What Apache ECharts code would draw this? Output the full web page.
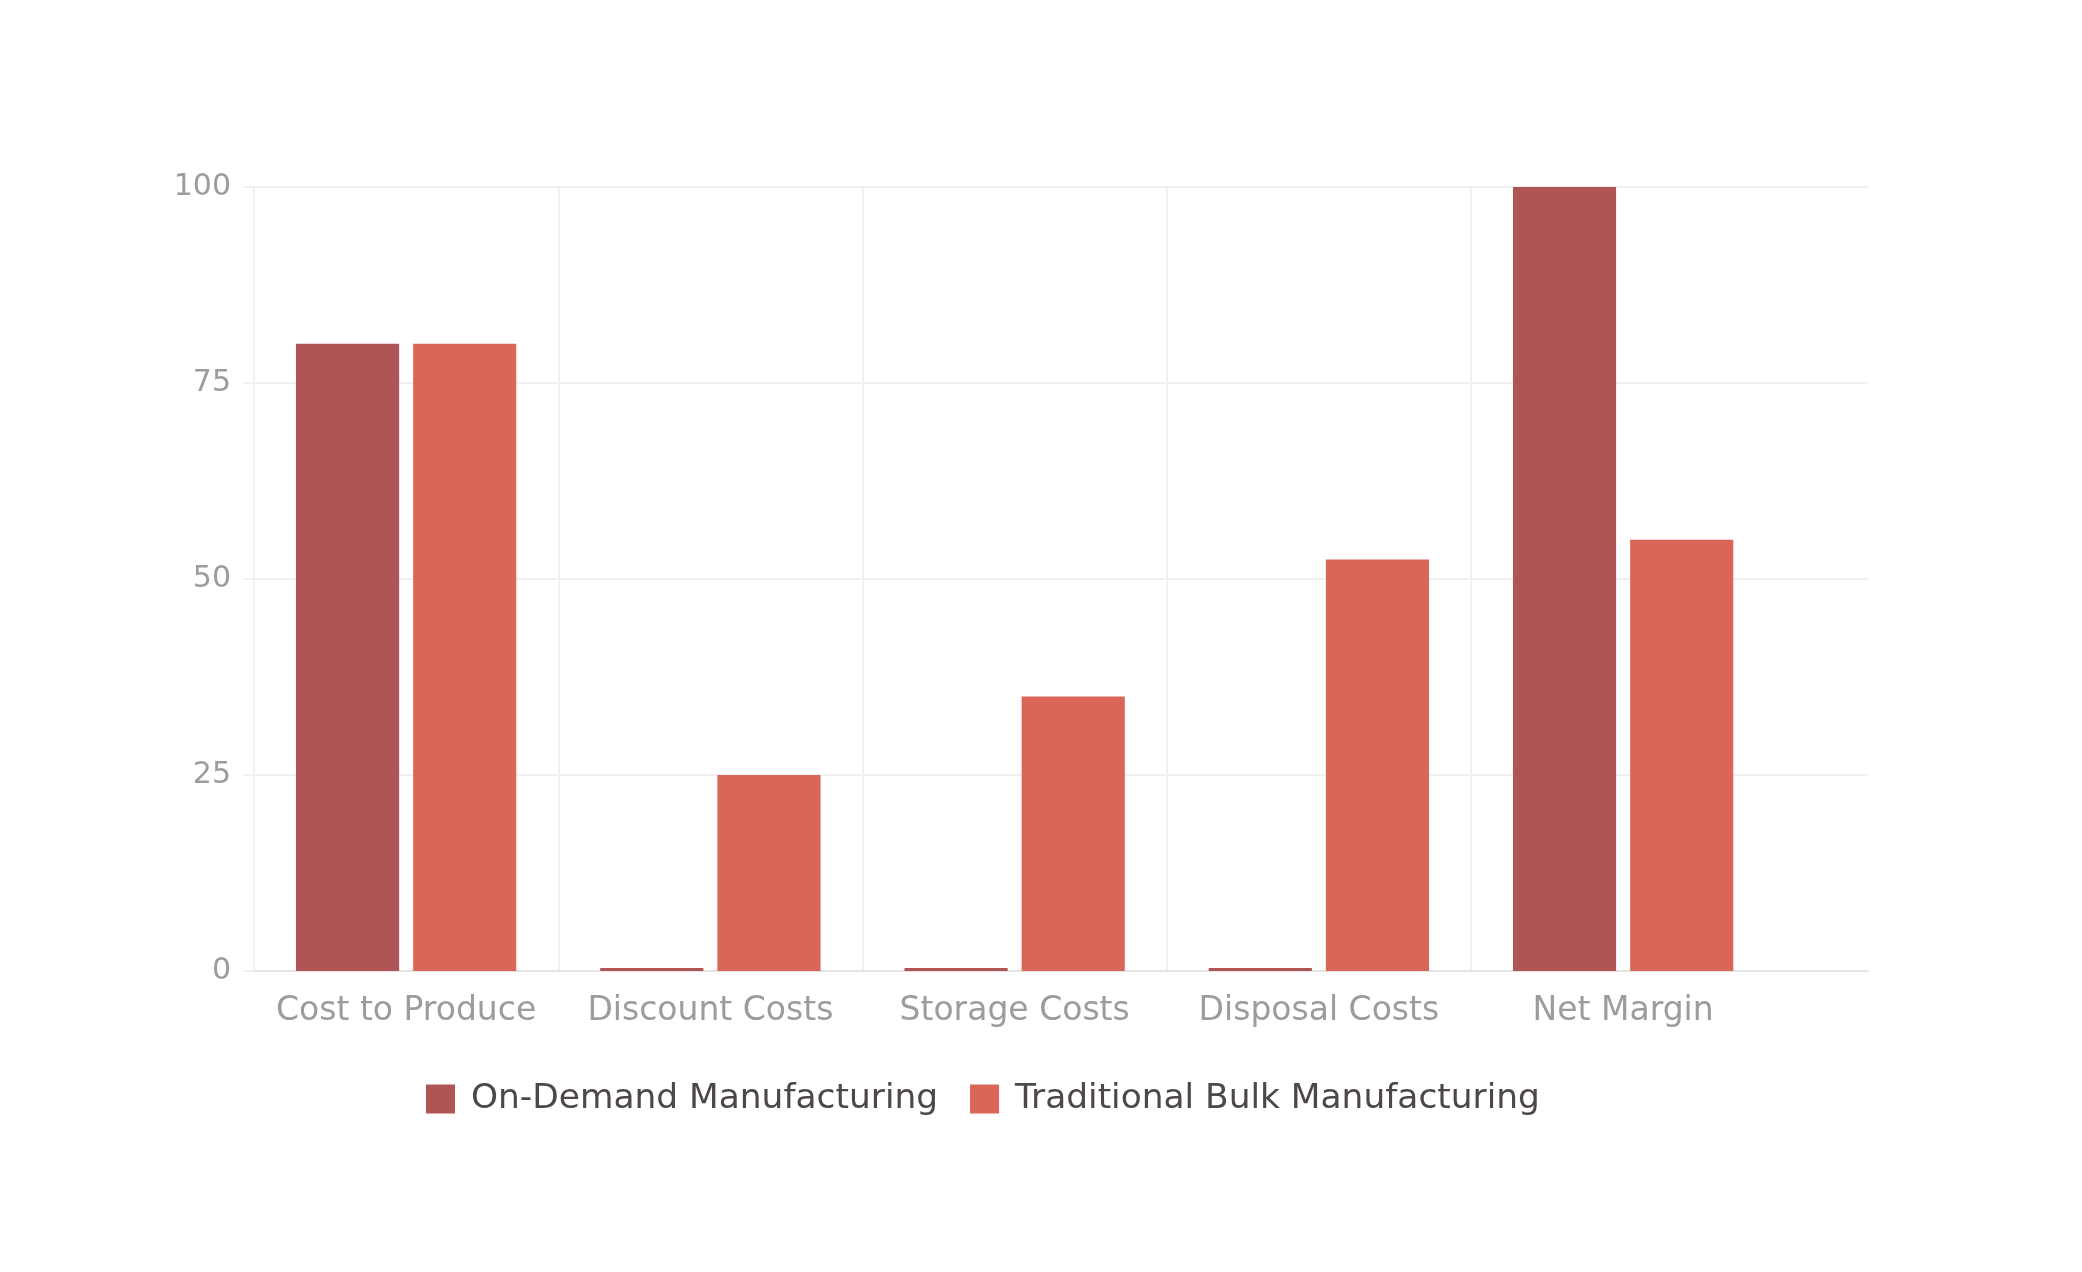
<!DOCTYPE html>
<html>
<head>
<meta charset="utf-8">
<script src="https://cdn.jsdelivr.net/npm/echarts@6/dist/echarts.min.js"></script>
<style>
  html, body { margin: 0; padding: 0; background: #ffffff; }
  #chart { width: 2082px; height: 1272px; }
</style>
</head>
<body>
<div id="chart"></div>
<script>
const categories = ['Cost to Produce', 'Discount Costs', 'Storage Costs', 'Disposal Costs', 'Net Margin'];
const seriesNames = ['On-Demand Manufacturing', 'Traditional Bulk Manufacturing'];
const onDemand = [80, 0, 0, 0, 100];
const traditional = [80, 25, 35, 52.5, 55];
const yTicks = { min: 0, max: 100, interval: 25 };

const FONT = 'DejaVu Sans';
const gridColor = '#f1f1f1';
const none = 'rgba(0,0,0,0)';
const chart = echarts.init(document.getElementById('chart'));

const plotLeft = 254, plotTop = 187, plotBottomGap = 301;
const bandWidth = 304.25;
const bgWidth = 1614;

chart.setOption({
  backgroundColor: '#ffffff',
  animation: false,
  color: ['#b05556', '#d96658'],
  legend: {
    data: seriesNames,
    left: 426,
    top: 1082,
    padding: 0,
    itemWidth: 29,
    itemHeight: 29,
    itemGap: 32,
    icon: 'rect',
    textStyle: { fontFamily: FONT, fontSize: 34.4, color: '#4d4846', padding: [0, 0, 0, 11] }
  },
  grid: [
    { left: plotLeft, top: plotTop, width: bandWidth * categories.length, bottom: plotBottomGap },
    { left: plotLeft, top: plotTop, width: bgWidth, bottom: plotBottomGap }
  ],
  xAxis: [
    {
      type: 'category', gridIndex: 0, data: categories,
      axisLine: { show: false }, axisTick: { show: false }, splitLine: { show: false },
      axisLabel: { interval: 0, margin: 24, fontFamily: FONT, fontSize: 33, color: '#9c9c9c' }
    },
    {
      type: 'value', gridIndex: 1, min: 0, max: bgWidth / bandWidth, interval: 1,
      axisLabel: { show: false }, axisTick: { show: false },
      axisLine: { show: true, onZero: false, lineStyle: { color: '#e4e4e4', width: 2 } },
      splitLine: { show: true, lineStyle: { color: [gridColor, gridColor, gridColor, gridColor, gridColor, none, none], width: 2 } }
    }
  ],
  yAxis: [
    { type: 'value', gridIndex: 0, min: yTicks.min, max: yTicks.max, interval: yTicks.interval, show: false },
    {
      type: 'value', gridIndex: 1, min: yTicks.min, max: yTicks.max, interval: yTicks.interval,
      axisLine: { show: false },
      axisTick: { show: true, length: 11, lineStyle: { color: gridColor, width: 2 } },
      splitLine: { show: true, lineStyle: { color: gridColor, width: 2 } },
      axisLabel: { margin: 23, fontFamily: FONT, fontSize: 30, color: '#9c9c9c' }
    }
  ],
  series: [
    {
      name: seriesNames[0], type: 'bar', xAxisIndex: 0, yAxisIndex: 0,
      data: onDemand, barWidth: '33.9%', barGap: '13.6%', barMinHeight: 3
    },
    {
      name: seriesNames[1], type: 'bar', xAxisIndex: 0, yAxisIndex: 0,
      data: traditional, barWidth: '33.9%', barGap: '13.6%'
    }
  ]
});
</script>
</body>
</html>
